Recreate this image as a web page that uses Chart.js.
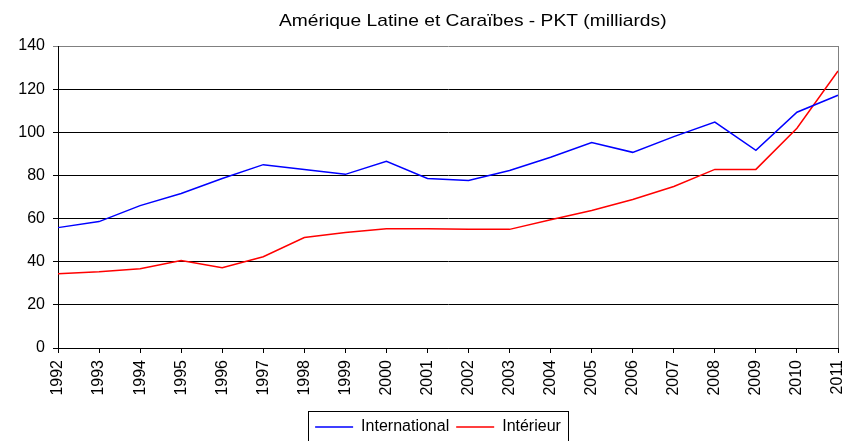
<!DOCTYPE html>
<html>
<head>
<meta charset="utf-8">
<script src="https://cdn.jsdelivr.net/npm/chart.js@4.4.1/dist/chart.umd.min.js"></script>
<style>
  body { margin: 0; background: #fff; }
  #wrap { width: 845px; height: 441px; }
</style>
</head>
<body>
<div id="wrap"><canvas id="pktChart" width="845" height="441"></canvas></div>
<script>
const years = ['1992','1993','1994','1995','1996','1997','1998','1999','2000','2001',
               '2002','2003','2004','2005','2006','2007','2008','2009','2010','2011'];
const international = [55.8, 58.6, 66.0, 71.6, 78.6, 85.0, 82.8, 80.5, 86.5, 78.6,
                       77.7, 82.3, 88.4, 95.3, 90.7, 98.0, 104.7, 91.6, 109.3, 117.2];
const interieur = [34.4, 35.3, 36.7, 40.5, 37.2, 42.3, 51.2, 53.5, 55.3, 55.3,
                   55.0, 55.0, 59.5, 63.7, 68.8, 74.9, 82.8, 82.8, 101.9, 128.4];
const yTicks = [0, 20, 40, 60, 80, 100, 120, 140];
const chartTitle = 'Amérique Latine et Caraïbes - PKT (milliards)';

const FONT = '"Liberation Sans", Arial, sans-serif';
Chart.defaults.font.family = FONT;
Chart.defaults.color = '#000';

// title, grey right edge of the plot, box round the legend
const frame = {
  id: 'frame',
  afterLayout(chart) {
    // legend sits a little right of the canvas centre and low in the original
    chart.legend.left += 15;
    chart.legend.right += 15;
    chart.legend.top += 4;
    chart.legend.bottom += 4;
  },
  afterDraw(chart) {
    const ctx = chart.ctx;
    const a = chart.chartArea;
    ctx.save();
    ctx.strokeStyle = '#808080';
    ctx.lineWidth = 1;
    ctx.beginPath();
    ctx.moveTo(Math.round(a.right) + 0.5, a.top);
    ctx.lineTo(Math.round(a.right) + 0.5, a.bottom);
    ctx.stroke();
    ctx.strokeStyle = '#000';
    ctx.strokeRect(308.5, 411.5, 260, 31);
    // the original title is a bit wide, stretch it
    ctx.fillStyle = '#000';
    ctx.font = '17px ' + FONT;
    ctx.textAlign = 'left';
    ctx.textBaseline = 'middle';
    ctx.translate(279, 21);
    ctx.scale(1.13, 1);
    ctx.fillText(chartTitle, 0, 0);
    ctx.restore();
  }
};

new Chart(document.getElementById('pktChart'), {
  type: 'line',
  data: {
    labels: years,
    datasets: [{
      label: 'International',
      data: international,
      borderColor: '#0000ff',
      backgroundColor: '#0000ff',
      borderWidth: 1.5,
      pointRadius: 0,
      tension: 0
    }, {
      label: 'Intérieur',
      data: interieur,
      borderColor: '#ff0000',
      backgroundColor: '#ff0000',
      borderWidth: 1.5,
      pointRadius: 0,
      tension: 0
    }]
  },
  options: {
    responsive: false,
    animation: false,
    layout: { padding: { left: 8, right: 7, top: 46, bottom: 0 } },
    plugins: {
      title: { display: false },
      legend: {
        position: 'bottom',
        labels: {
          font: { size: 16 },
          boxWidth: 38,
          boxHeight: 0,
          padding: 7
        }
      },
      tooltip: { enabled: false }
    },
    scales: {
      x: {
        offset: false,
        grid: { display: true, drawOnChartArea: false, color: '#000', tickLength: 5 },
        border: { color: '#000' },
        ticks: { font: { size: 16 }, minRotation: 90, maxRotation: 90, autoSkip: false, padding: 7 },
        afterFit: (s) => { s.height = 60; s.paddingRight = 0; }
      },
      y: {
        min: 0,
        max: 140,
        afterBuildTicks: (s) => { s.ticks = yTicks.map(v => ({ value: v })); },
        grid: { color: (c) => c.tick && c.tick.value === 140 ? '#808080' : '#000', tickLength: 5 },
        border: { color: '#000' },
        ticks: { font: { size: 16 }, padding: 8 },
        afterFit: (s) => { s.width = 50; }
      }
    }
  },
  plugins: [frame]
});
</script>
</body>
</html>
